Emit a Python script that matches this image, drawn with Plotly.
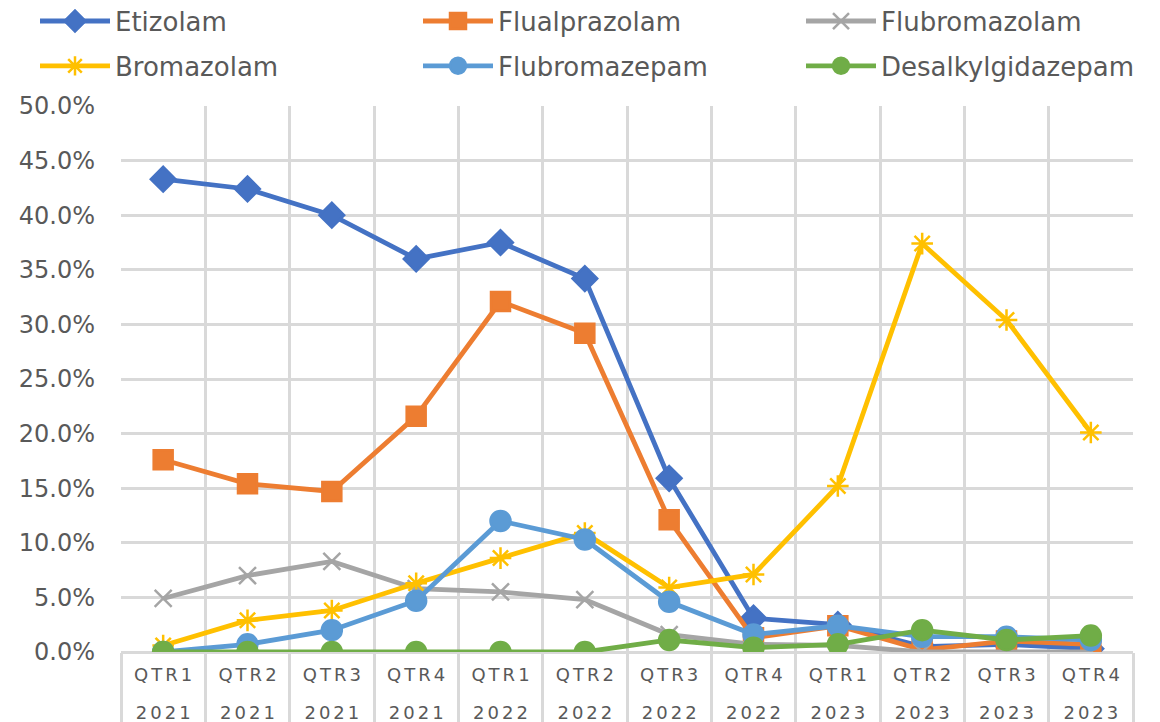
import plotly.graph_objects as go

SP = "\u2006"
quarters = ["QTR1", "QTR2", "QTR3", "QTR4"] * 3
years = ["2021"] * 4 + ["2022"] * 4 + ["2023"] * 4
categories = [f"{q} {y}" for q, y in zip(quarters, years)]
quarter_labels = [SP.join(q) for q in quarters]
year_labels = [SP.join(y) for y in years]

etizolam = [43.3, 42.4, 40.0, 36.0, 37.5, 34.2, 15.9, 3.1, 2.5, 0.5, 0.7, 0.3]
flualprazolam = [17.6, 15.4, 14.7, 21.6, 32.1, 29.2, 12.1, 1.3, 2.4, 0.2, 1.0, 0.7]
flubromazolam = [4.9, 7.0, 8.3, 5.8, 5.5, 4.8, 1.6, 0.7, 0.6, 0.0, 0.0, 0.0]
bromazolam = [0.6, 2.9, 3.8, 6.3, 8.6, 10.9, 5.9, 7.1, 15.2, 37.4, 30.4, 20.1]
flubromazepam = [0.0, 0.7, 2.0, 4.7, 12.0, 10.3, 4.6, 1.6, 2.4, 1.4, 1.4, 1.1]
desalkylgidazepam = [0.0, 0.0, 0.0, 0.0, 0.0, 0.0, 1.1, 0.4, 0.7, 2.0, 1.1, 1.5]

# name, values, colour, symbol, size, legend column
series = [
    ("Etizolam", etizolam, "#4472C4", "diamond", 19, "legend"),
    ("Flualprazolam", flualprazolam, "#ED7D31", "square", 19, "legend2"),
    ("Flubromazolam", flubromazolam, "#A5A5A5", "x-thin-open", 17, "legend3"),
    ("Bromazolam", bromazolam, "#FFC000", "asterisk-open", 18, "legend"),
    ("Flubromazepam", flubromazepam, "#5B9BD5", "circle", 20, "legend2"),
    ("Desalkylgidazepam", desalkylgidazepam, "#70AD47", "circle", 20, "legend3"),
]

FONT = "DejaVu Sans"
GRID = "#D9D9D9"
TXT = "#595959"

fig = go.Figure()
for name, vals, color, sym, size, leg in series:
    fig.add_trace(go.Scatter(
        x=categories, y=[v / 100 for v in vals], name=name, mode="lines+markers",
        line=dict(color=color, width=4.8),
        marker=dict(symbol=sym, size=size, color=color,
                    line=dict(color=color, width=2.5)),
        legend=leg, legendgroup=name,
    ))

# helper trace so the year axis (second category row) has categories
fig.add_trace(go.Scatter(x=categories, y=[None] * len(categories), xaxis="x2",
                         showlegend=False, hoverinfo="skip", mode="lines"))

LEG_Y = 1.1985
leg_common = dict(
    orientation="v", xref="container", yref="paper", y=LEG_Y,
    xanchor="left", yanchor="top",
    font=dict(size=26, color=TXT, family=FONT),
    itemwidth=70, tracegroupgap=8, bgcolor="rgba(0,0,0,0)",
)

fig.update_layout(
    width=1160, height=722,
    margin=dict(l=113, r=35, t=98, b=78, autoexpand=False),
    paper_bgcolor="white", plot_bgcolor="white",
    font=dict(family=FONT, color=TXT),
    showlegend=True,
    legend=dict(x=27 / 1160, **leg_common),
    legend2=dict(x=410 / 1160, **leg_common),
    legend3=dict(x=793 / 1160, **leg_common),
    xaxis=dict(
        type="category", range=[-0.5, 11.5],
        tickmode="array", tickvals=categories, ticktext=quarter_labels,
        tickson="boundaries", ticks="outside", ticklen=75, tickwidth=2.5,
        tickcolor=GRID,
        showgrid=True, gridcolor=GRID, gridwidth=2.5,
        tickfont=dict(size=18, color=TXT, family=FONT),
        tickangle=0, showline=False, zeroline=False,
        ticklabelstandoff=10,
    ),
    xaxis2=dict(
        type="category", range=[-0.5, 11.5], overlaying="x", anchor="y",
        side="bottom",
        tickmode="array", tickvals=categories, ticktext=year_labels,
        ticks="", showgrid=False, showline=False, zeroline=False,
        tickfont=dict(size=18, color=TXT, family=FONT),
        tickangle=0, ticklabelstandoff=48,
    ),
    yaxis=dict(
        range=[0, 0.5], dtick=0.05, tickformat=".1%",
        showgrid=True, gridcolor=GRID, gridwidth=2.5,
        zeroline=True, zerolinecolor=GRID, zerolinewidth=2.5,
        tickfont=dict(size=24, color=TXT, family=FONT),
        ticklabelstandoff=25, showline=False,
    ),
)

fig.write_html("out.html")
